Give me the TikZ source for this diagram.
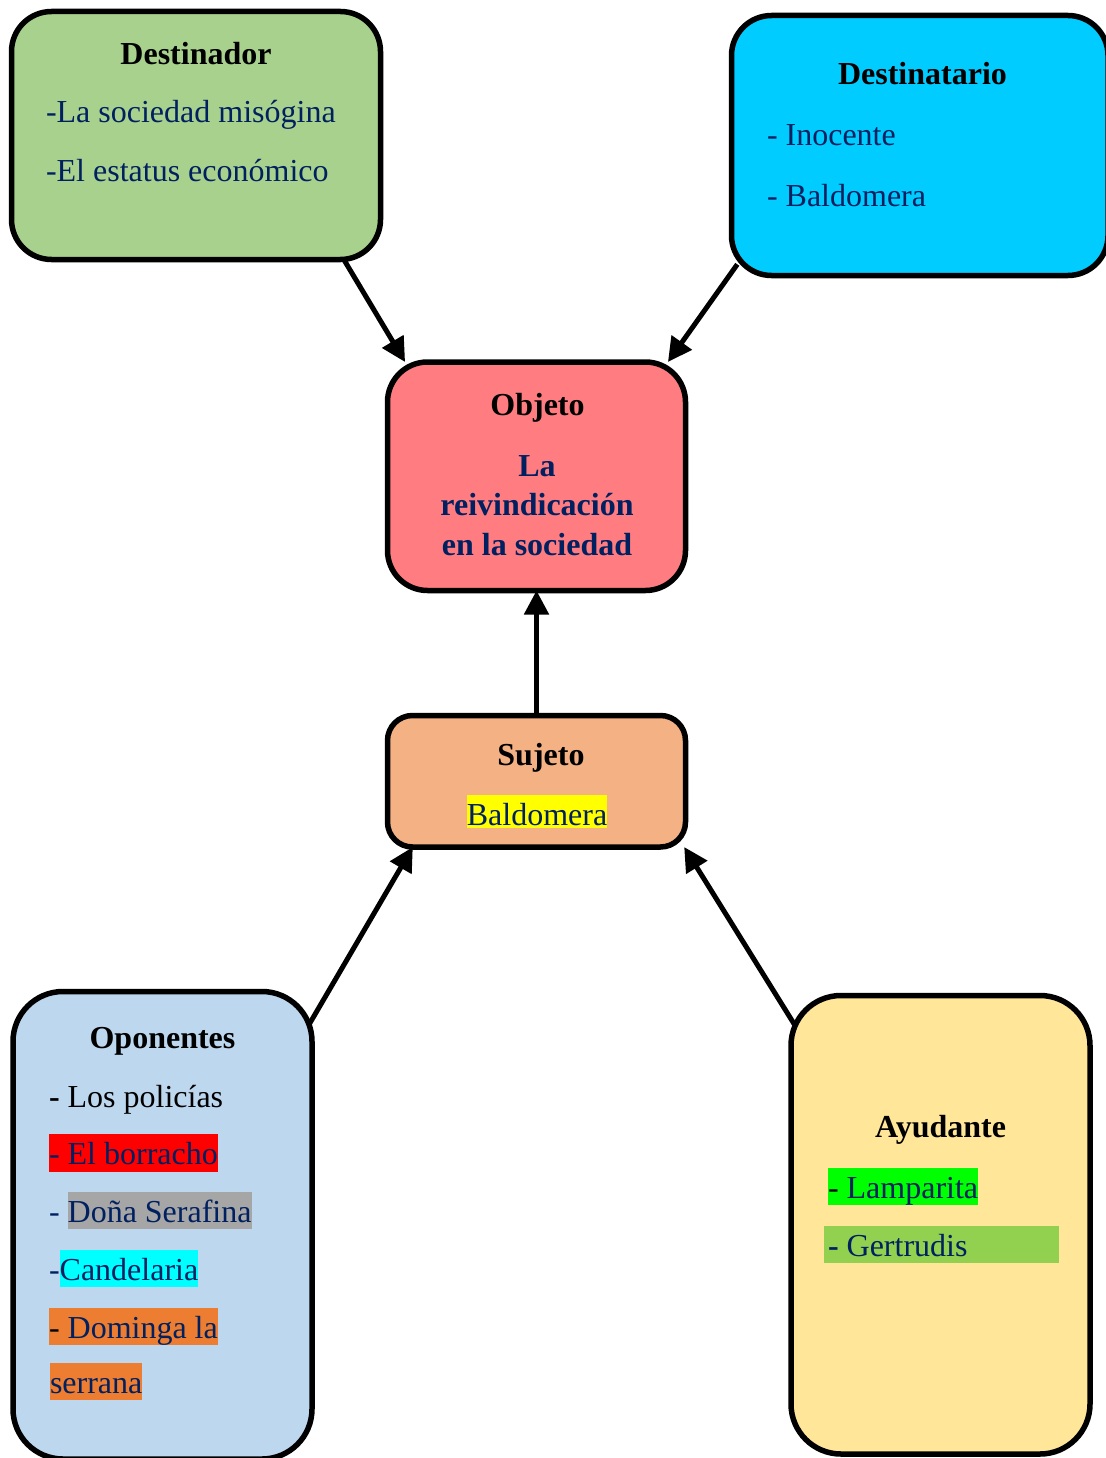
\documentclass[tikz,border=0pt]{standalone}
\usepackage{fontspec}
\setmainfont{Liberation Serif}
\usetikzlibrary{shapes}
\usetikzlibrary{arrows.meta}
\usetikzlibrary{positioning}

\definecolor{azuloscuro}{HTML}{002060}
\definecolor{verdecaja}{HTML}{A9D18E}
\definecolor{ciancaja}{HTML}{00CCFF}
\definecolor{rosacaja}{HTML}{FF7C80}
\definecolor{salmoncaja}{HTML}{F4B183}
\definecolor{celestecaja}{HTML}{BDD7EE}
\definecolor{amarillocaja}{HTML}{FFE699}
\definecolor{amarillo}{HTML}{FFFF00}
\definecolor{rojo}{HTML}{FF0000}
\definecolor{gris}{HTML}{A6A6A6}
\definecolor{cian}{HTML}{00FFFF}
\definecolor{naranja}{HTML}{ED7D31}
\definecolor{verdelima}{HTML}{00FF00}
\definecolor{verdeclaro}{HTML}{92D050}

\newcommand{\resalto}[3][7pt]{{\setlength{\fboxsep}{0pt}\colorbox{#2}{\rule[-#1]{0pt}{\dimexpr30pt+#1\relax}#3}}}

\begin{document}
\begin{tikzpicture}[x=1pt,y=-1pt,
	every node/.style={font=\fontsize{32}{38}\selectfont,inner sep=0pt,outer sep=0pt},
	caja/.style={draw,line width=5.5pt,rounded corners=40pt},
	titulo/.style={anchor=base,font=\fontsize{32}{38}\selectfont\bfseries},
	texto/.style={anchor=base west,text=azuloscuro},
	flecha/.style={-{Triangle[length=24pt,width=24pt]},line width=5pt}
	]
	\useasboundingbox (0,0) rectangle (1105,1458);
	\node[caja,fill=verdecaja,minimum width=369pt,minimum height=248pt] (destinador) at (196,135.5) {};
	\node[caja,fill=ciancaja,minimum width=376.5pt,minimum height=260pt] (destinatario) at (919.75,145.5) {};
	\node[caja,fill=rosacaja,minimum width=298pt,minimum height=228.5pt] (objeto) at (536.5,476.25) {};
	\node[caja,fill=salmoncaja,rounded corners=25pt,minimum width=298pt,minimum height=131.5pt] (sujeto) at (536.5,781.25) {};
	\node[caja,fill=celestecaja,rounded corners=50pt,minimum width=299pt,minimum height=467.5pt] (oponentes) at (162.5,1225.25) {};
	\node[caja,fill=amarillocaja,rounded corners=50pt,minimum width=299pt,minimum height=458.5pt] (ayudante) at (940.5,1224.75) {};

	\node[titulo] (tdestinador) at (196,65) {Destinador};
	\node[texto] (d1) at (46,123) {-La sociedad misógina};
	\node[texto] (d2) at (46,182) {-El estatus económico};

	\node[titulo] (tdestinatario) at (922.5,85) {Destinatario};
	\node[texto] (r1) at (767,146) {- Inocente};
	\node[texto] (r2) at (767,207) {- Baldomera};

	\node[titulo] (tobjeto) at (537.5,415) {Objeto};
	\node[titulo,text=azuloscuro] (o1) at (537,476) {La};
	\node[titulo,text=azuloscuro] (o2) at (537,515) {reivindicación};
	\node[titulo,text=azuloscuro] (o3) at (537,555) {en la sociedad};

	\node[titulo] (tsujeto) at (541,765) {Sujeto};
	\node[anchor=base,text=azuloscuro] (s1) at (537,825) {\resalto[3pt]{amarillo}{Baldomera}};

	\node[titulo] (toponentes) at (162.5,1048) {Oponentes};
	\node[anchor=base west] (p1) at (49,1107) {\textbf{-} Los policías};
	\node[texto] (p2) at (49,1164) {\resalto[8pt]{rojo}{- El borracho}};
	\node[texto] (p3) at (49,1222) {- \resalto{gris}{Doña Serafina}};
	\node[texto] (p4) at (49,1280) {-\resalto{cian}{Candelaria}};
	\node[texto] (p5) at (49,1338) {\resalto{naranja}{{\color{black}-} Dominga la}};
	\node[texto] (p6) at (50,1393) {\resalto{naranja}{serrana}};

	\node[titulo] (tayudante) at (940.5,1137) {Ayudante};
	\node[texto] (a1) at (828,1198) {\resalto{verdelima}{{\color{black}-} Lamparita}};
	\node[texto] (a2) at (824,1256) {\resalto{verdeclaro}{\hspace{4pt}\textbf{-} Gertrudis\hspace{91pt}}};

	\draw[flecha] (destinador.-40) -- (objeto.139);
	\draw[flecha,shorten <=-10pt] (destinatario.-146) -- (objeto.41);
	\draw[flecha] (sujeto.north) -- (objeto.south);
	\draw[flecha,shorten <=-6pt] (oponentes.54) -- (sujeto.-152);
	\draw[flecha,shorten <=-8pt] (ayudante.126) -- (sujeto.-24);
\end{tikzpicture}
\end{document}
